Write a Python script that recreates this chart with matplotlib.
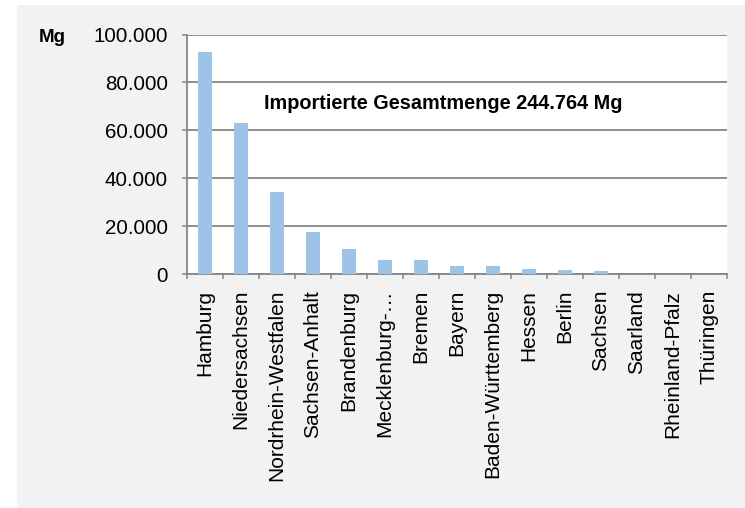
import matplotlib
matplotlib.use("Agg")
import matplotlib.pyplot as plt
from matplotlib.patches import Rectangle
import numpy as np

plt.rcParams['font.family'] = ['Liberation Sans', 'DejaVu Sans']

laender = ['Hamburg', 'Niedersachsen', 'Nordrhein-Westfalen', 'Sachsen-Anhalt',
           'Brandenburg', 'Mecklenburg-\u2026', 'Bremen', 'Bayern',
           'Baden-Württemberg', 'Hessen', 'Berlin', 'Sachsen', 'Saarland',
           'Rheinland-Pfalz', 'Thüringen']
menge = [92600, 62900, 34400, 17400, 10300, 5850, 5850, 3470,
         3470, 2090, 1670, 1250, 150, 80, 30]
yticks = [0, 20000, 40000, 60000, 80000, 100000]
ytick_labels = ['0', '20.000', '40.000', '60.000', '80.000', '100.000']
titel = 'Importierte Gesamtmenge 244.764 Mg'

grid_col = '#868686'

fig = plt.figure(figsize=(7.45, 5.08), dpi=100, facecolor='white')
# grey chart area
fig.patches.append(Rectangle((17/745, 0), 1 - 17/745, 503/508,
                             transform=fig.transFigure, facecolor='#f2f2f2',
                             edgecolor='none', zorder=-10))

ax = fig.add_axes([186.7/745, 1 - 274/508, 540/745, 239.5/508])
ax.set_facecolor('white')

x = np.arange(len(laender))
ax.bar(x, menge, width=0.39, color='#9dc3e6', zorder=3)

ax.set_xlim(-0.5, len(laender) - 0.5)
ax.set_ylim(0, 100000)
ax.set_yticks(yticks)
ax.set_yticklabels(ytick_labels)
ax.yaxis.grid(True, color=grid_col, linewidth=1.3, zorder=1)
ax.set_axisbelow(True)

ax.set_xticks(x)
ax.set_xticklabels(laender, rotation=90, va='top', ha='center')
ax.set_xticks(np.arange(len(laender) + 1) - 0.5, minor=True)
ax.tick_params(axis='x', which='major', length=0, pad=11.5, labelsize=15,
               labelcolor='black')
ax.tick_params(axis='x', which='minor', length=3.6, width=1.1, color=grid_col,
               direction='out')
ax.tick_params(axis='y', length=3.6, width=1.1, color=grid_col, pad=10,
               labelsize=14.8, labelcolor='black')

for s in ['top', 'right']:
    ax.spines[s].set_visible(False)
for s in ['left', 'bottom']:
    ax.spines[s].set_color(grid_col)
    ax.spines[s].set_linewidth(1.3)

ax.text(0.475, 0.71, titel, transform=ax.transAxes, ha='center', va='center',
        fontsize=14.3, fontweight='bold', zorder=5)
fig.text(52/745, 1 - 37/508, 'Mg', ha='center', va='center', fontsize=13.5,
         fontweight='bold')

fig.savefig('out.png', dpi=100, facecolor='white')
